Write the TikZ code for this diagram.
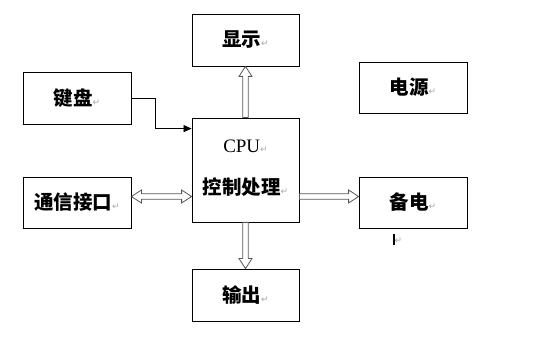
\documentclass[tikz,border=0pt]{standalone}
\usepackage{fontspec}
\setmainfont{Liberation Serif}
\newfontfamily\cjk{Noto Sans CJK SC}
\newfontfamily\symb{DejaVu Sans}
\usetikzlibrary{arrows.meta, positioning, calc}
\newcommand{\pmark}{{\mdseries\symb\color{gray!70}\fontsize{9}{9}\selectfont ↵}}
\tikzset{
  blk/.style={
    draw=black, line width=0.8pt, minimum width=107pt,
    minimum height=52pt, inner sep=0pt,
    font=\cjk\bfseries\fontsize{19.5}{21}\selectfont
  },
  lbl/.style={inner sep=0pt, font=\cjk\bfseries\fontsize{19.5}{21}\selectfont},
  % hollow block arrow, one head
  hol/.style={
    draw=gray!70!black, fill=white, line width=0.8pt,
    to path={
      let \p1=(\tikztostart), \p2=(\tikztotarget),
          \n1={veclen(\x2-\x1,\y2-\y1)} in
      ($(\p1)!2.8pt!90:(\p2)$)
      -- ($(\p1)!{\n1-10pt}!(\p2)!2.8pt!90:(\p2)$)
      -- ($(\p1)!{\n1-10pt}!(\p2)!6.5pt!90:(\p2)$)
      -- (\p2)
      -- ($(\p1)!{\n1-10pt}!(\p2)!6.5pt!-90:(\p2)$)
      -- ($(\p1)!{\n1-10pt}!(\p2)!2.8pt!-90:(\p2)$)
      -- ($(\p1)!2.8pt!-90:(\p2)$) -- cycle
    }
  },
  % hollow block arrow, two heads
  hol2/.style={
    draw=gray!70!black, fill=white, line width=0.8pt,
    to path={
      let \p1=(\tikztostart), \p2=(\tikztotarget),
          \n1={veclen(\x2-\x1,\y2-\y1)} in
      (\p1)
      -- ($(\p1)!10pt!(\p2)!6.5pt!90:(\p2)$)
      -- ($(\p1)!10pt!(\p2)!2.8pt!90:(\p2)$)
      -- ($(\p1)!{\n1-10pt}!(\p2)!2.8pt!90:(\p2)$)
      -- ($(\p1)!{\n1-10pt}!(\p2)!6.5pt!90:(\p2)$)
      -- (\p2)
      -- ($(\p1)!{\n1-10pt}!(\p2)!6.5pt!-90:(\p2)$)
      -- ($(\p1)!{\n1-10pt}!(\p2)!2.8pt!-90:(\p2)$)
      -- ($(\p1)!10pt!(\p2)!2.8pt!-90:(\p2)$)
      -- ($(\p1)!10pt!(\p2)!6.5pt!-90:(\p2)$) -- cycle
    }
  },
  sarr/.style={-{Triangle[length=8pt, width=7pt]}, line width=0.7pt},
}
\begin{document}
\begin{tikzpicture}[x=1pt, y=-1pt]
    \useasboundingbox (0,0) rectangle (541,355);

    % blocks
    \node[blk] (disp) at (245.5,40) {显示\pmark};
    \node[blk, minimum height=104pt] (cpu) at (245.5,170) {};
    \node[lbl, font=\fontsize{19}{21}\selectfont] (cpulbl) at ([yshift=24pt]cpu.center) {CPU\pmark};
    \node[lbl] (ctrl) at ([yshift=-17pt]cpu.center) {控制处理\pmark};
    \node[blk, minimum width=108pt] (kbd) at (77,98) {键盘\pmark};
    \node[blk, minimum width=108pt, minimum height=51pt] (comm) at (77,202.5) {通信接口\pmark};
    \node[blk, minimum width=108pt, minimum height=51pt] (pwr) at (413,87.5) {电源\pmark};
    \node[blk, minimum width=108pt, minimum height=51pt] (bak) at (413,202.5) {备电\pmark};
    \node[blk] (outp) at (245.5,295) {输出\pmark};
    \node[inner sep=0pt, anchor=west] (cur) at (393,240)
      {\rule[-2pt]{1.3pt}{11pt}\pmark};

    % connectors
    \draw[sarr] (kbd.east) -- ++(24,0) |- ([yshift=-11pt]cpu.north west);
    \draw[hol] (cpu.north) to (disp.south);
    \draw[hol] (cpu.south) to (outp.north);
    \draw[hol2] ([yshift=6pt]comm.east) to ([yshift=6pt]cpu.west |- comm.east);
    \draw[hol] ([yshift=6pt]cpu.east |- bak.west) to ([yshift=6pt]bak.west);
\end{tikzpicture}
\end{document}
